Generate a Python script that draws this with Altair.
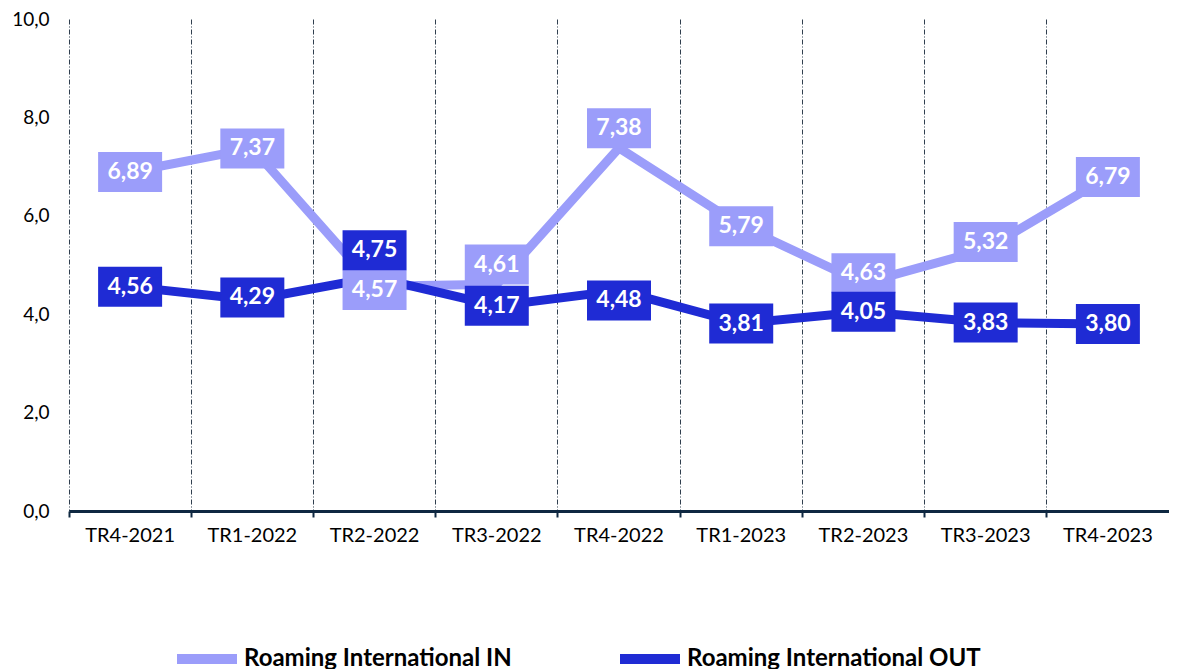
import altair as alt
import pandas as pd

quarters = ["TR4-2021", "TR1-2022", "TR2-2022", "TR3-2022", "TR4-2022",
            "TR1-2023", "TR2-2023", "TR3-2023", "TR4-2023"]
roaming_in = [6.89, 7.37, 4.57, 4.61, 7.38, 5.79, 4.63, 5.32, 6.79]
roaming_out = [4.56, 4.29, 4.75, 4.17, 4.48, 3.81, 4.05, 3.83, 3.80]
series_names = ["Roaming International IN", "Roaming International OUT"]
series_colors = ["#9B9DFA", "#1F2BD4"]

# label nudges (in value units) to keep boxes from overlapping
in_label_shift = [0, 0, -0.08, 0.4, 0.4, 0, 0.2, 0.15, 0]
out_label_shift = [0, 0.05, 0.55, 0, -0.2, 0, 0, 0, 0]

rows = []
for name, vals, shifts in [(series_names[0], roaming_in, in_label_shift),
                           (series_names[1], roaming_out, out_label_shift)]:
    for q, v, s in zip(quarters, vals, shifts):
        rows.append({"series": name, "quarter": q, "value": v,
                     "label": f"{v:.2f}".replace(".", ","),
                     "label_y": v + s})
df = pd.DataFrame(rows)

FONT = "Lato"
color_scale = alt.Scale(domain=series_names, range=series_colors)

x_enc = alt.X(
    "quarter:N", sort=quarters,
    scale=alt.Scale(type="band", paddingInner=0, paddingOuter=0),
    axis=alt.Axis(title=None, labelAngle=0, bandPosition=0, grid=True,
                  gridDash=[5, 2, 1, 2], gridColor="#2F3E4E", gridWidth=1,
                  domainColor="#0E2841", domainWidth=3,
                  tickColor="#0E2841", tickWidth=2, tickSize=6,
                  labelFontSize=20, labelPadding=8, labelColor="black",
                  labelFont=FONT),
)
y_axis = alt.Axis(title=None, values=[0, 2, 4, 6, 8, 10],
                  labelExpr="replace(format(datum.value, '.1f'), '.', ',')",
                  domain=False, ticks=False, grid=False,
                  labelFontSize=19, labelPadding=20, labelColor="black",
                  labelFont=FONT)
y_scale = alt.Scale(domain=[0, 10], nice=False)

base = alt.Chart(df)

lines = base.mark_line(strokeWidth=9, strokeCap="round").encode(
    x=x_enc,
    y=alt.Y("value:Q", scale=y_scale, axis=y_axis),
    color=alt.Color("series:N", scale=color_scale, sort=series_names,
                    legend=alt.Legend(orient="none", legendX=103, legendY=605,
                                      direction="horizontal", title=None,
                                      symbolType="stroke", symbolStrokeWidth=10,
                                      symbolSize=3600, labelFontSize=24,
                                      labelFont=FONT, labelFontWeight="bold",
                                      labelColor="black", columnPadding=88,
                                      labelOffset=2, labelLimit=400)),
    order=alt.Order("series:N", sort="descending"),
)

boxes = base.mark_point(
    shape="M-1,-0.625L1,-0.625L1,0.625L-1,0.625Z", size=4096,
    filled=True, opacity=1, strokeWidth=0,
).encode(
    x=alt.X("quarter:N", sort=quarters),
    y=alt.Y("label_y:Q", scale=y_scale),
    color=alt.Color("series:N", scale=color_scale, legend=None),
)

texts = base.mark_text(font=FONT, fontSize=23, fontWeight="bold",
                       color="white", baseline="middle", align="center").encode(
    x=alt.X("quarter:N", sort=quarters),
    y=alt.Y("label_y:Q", scale=y_scale),
    text="label:N",
)

chart = alt.layer(lines, boxes, texts).properties(
    width=1100, height=492,
    padding={"left": 3, "right": 0, "top": 2, "bottom": 0},
    background="white",
).configure_view(stroke=None)

chart.save("out.html", embed_options={"renderer": "svg", "actions": False})
